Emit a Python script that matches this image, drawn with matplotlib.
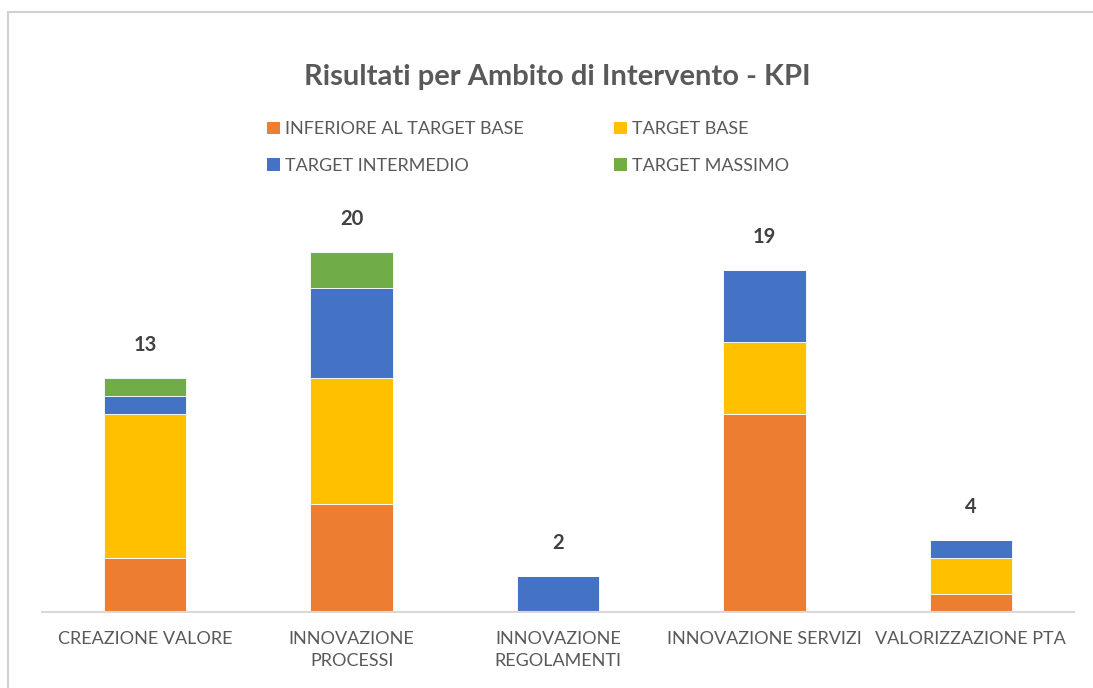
import numpy as np
import matplotlib.pyplot as plt
from matplotlib.patches import Patch, Rectangle

plt.rcParams['font.family'] = ['Lato', 'DejaVu Sans']

# Dati
categorie = ["CREAZIONE VALORE", "INNOVAZIONE\nPROCESSI", "INNOVAZIONE\nREGOLAMENTI",
             "INNOVAZIONE SERVIZI", "VALORIZZAZIONE PTA"]
inferiore = [3, 6, 0, 11, 1]
base = [8, 7, 0, 4, 2]
intermedio = [1, 5, 2, 4, 1]
massimo = [1, 2, 0, 0, 0]

serie = ["INFERIORE AL TARGET BASE", "TARGET BASE", "TARGET INTERMEDIO", "TARGET MASSIMO"]
colori = ["#ED7D31", "#FFC000", "#4472C4", "#70AD47"]

W, H = 1093, 688
fig = plt.figure(figsize=(W / 100, H / 100), dpi=100)

# bordo del grafico
fig.patches.append(Rectangle((8 / W, -0.1), 1.2, (H - 12) / H + 0.1, transform=fig.transFigure,
                             fill=False, edgecolor="#D0D0D0", linewidth=1.5))

ax = fig.add_axes([42 / W, (H - 612) / H, 1032 / W, 412 / H])
x = np.arange(len(categorie))
bottom = np.zeros(len(categorie))
for vals, col in zip([inferiore, base, intermedio, massimo], colori):
    v = np.array(vals, dtype=float)
    ax.bar(x, v, width=0.4, bottom=bottom, color=col, edgecolor="white", linewidth=0.6)
    bottom += v

totali = bottom
for xi, t in zip(x, totali):
    ax.annotate(f"{int(t)}", (xi, t), xytext=(0, 24), textcoords="offset points",
                ha="center", va="center", fontsize=14.5, fontweight="bold", color="#404040")

ax.set_xlim(-0.5, len(categorie) - 0.5)
ax.set_ylim(0, 412 / 18)
ax.set_xticks(x)
ax.set_xticklabels(categorie, fontsize=13, color="#595959", linespacing=1.4)
ax.tick_params(axis="x", length=0, pad=14)
ax.set_yticks([])
for s in ["top", "right", "left"]:
    ax.spines[s].set_visible(False)
ax.spines["bottom"].set_color("#D9D9D9")
ax.spines["bottom"].set_linewidth(1.5)

fig.text(557 / W, 1 - 77 / H, "Risultati per Ambito di Intervento - KPI", ha="center", va="center",
         fontsize=21, fontweight="bold", color="#595959")

# legenda per righe: matplotlib riempie per colonne, quindi riordino
ordine = [0, 2, 1, 3]
handles = [Patch(facecolor=colori[i], edgecolor="none") for i in ordine]
etichette = [serie[i] for i in ordine]
leg = fig.legend(handles, etichette, ncol=2, loc="upper left", bbox_to_anchor=(251 / W, 1 - 105 / H),
                 frameon=False, fontsize=13, handlelength=0.7, handleheight=0.7,
                 handletextpad=0.3, columnspacing=5.0, labelspacing=1.15)
for t in leg.get_texts():
    t.set_color("#595959")

fig.savefig("out.png", dpi=100)
